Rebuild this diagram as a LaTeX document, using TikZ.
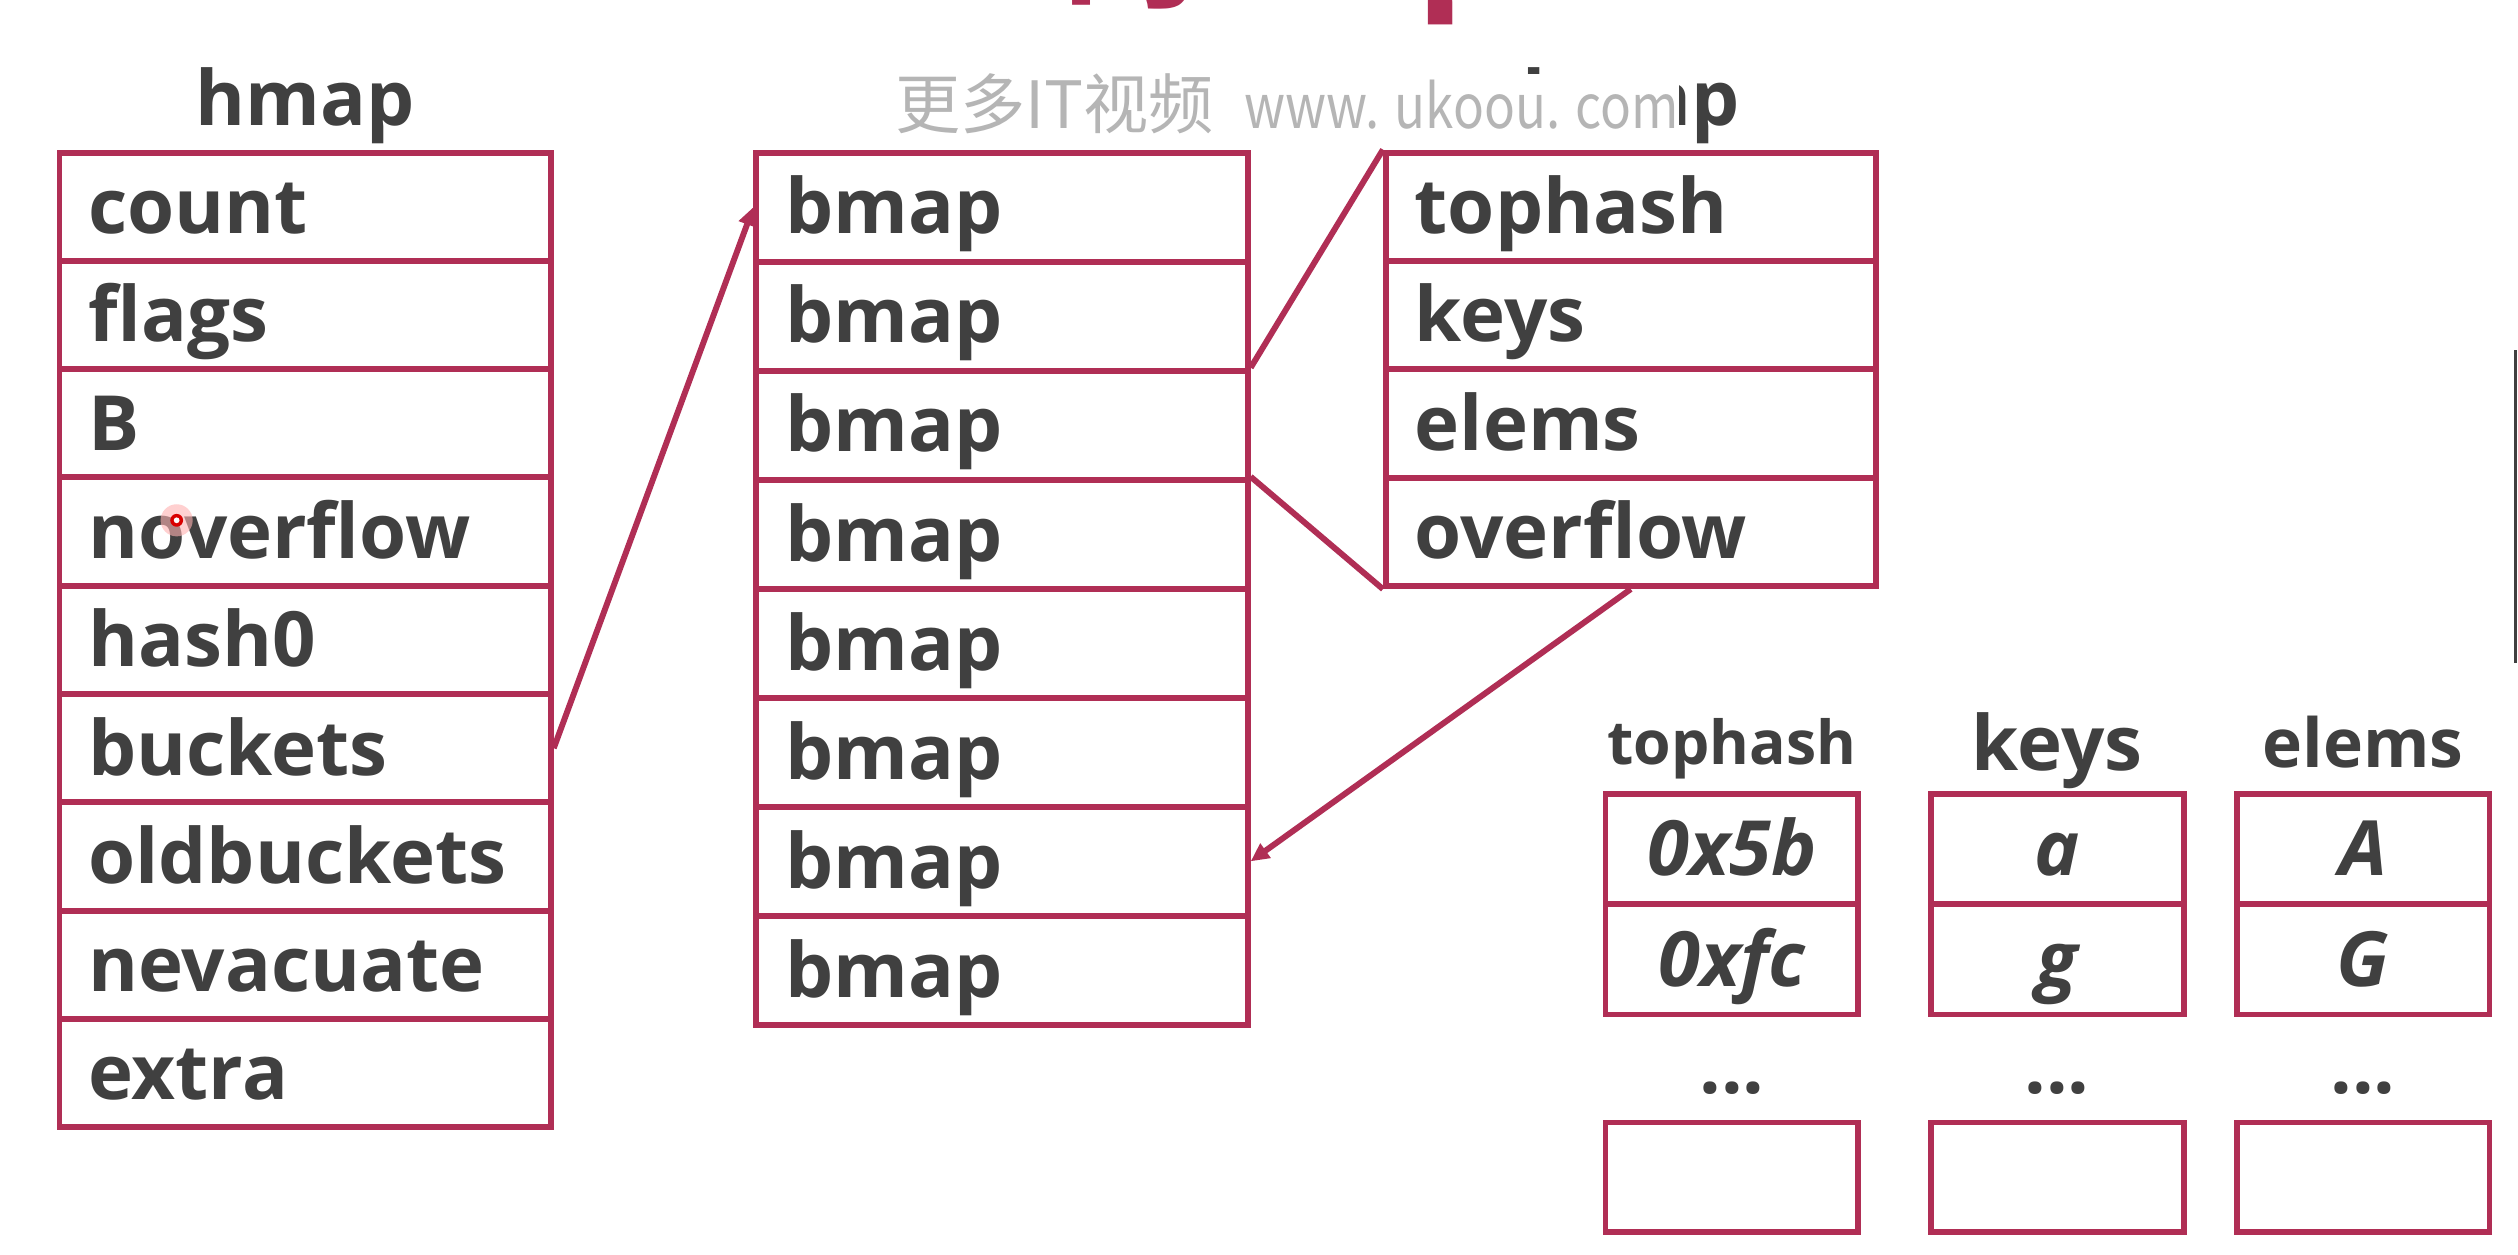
\documentclass[tikz,border=0pt]{standalone}
\usepackage{graphicx}
\usepackage{fontspec}
\setmainfont{Open Sans}
\newfontfamily\cjk{Noto Sans CJK SC}
\usetikzlibrary{arrows.meta}
\definecolor{crim}{HTML}{B02E55}
\definecolor{ink}{HTML}{404040}
\definecolor{wmgray}{HTML}{B5B5B5}
\begin{document}
\begin{tikzpicture}[x=0.02cm,y=-0.02cm,
  every node/.style={text=ink},
  lbl/.style={font=\bfseries\fontsize{27}{27}\selectfont},
  cellbase/.style={draw=crim, line width=2.1pt, rectangle, inner ysep=0pt,
    text height=0.668cm, text depth=0pt},
  hcell/.style={cellbase, lbl, minimum width=6.12cm, minimum height=1.349cm,
    text width=5.4cm, inner xsep=0.36cm, align=left},
  bcell/.style={cellbase, lbl, minimum width=6.12cm, minimum height=1.358cm,
    text width=5.4cm, inner xsep=0.36cm, align=left},
  dcell/.style={cellbase, lbl, minimum width=6.1cm, minimum height=1.35cm,
    text width=5.38cm, inner xsep=0.36cm, align=left},
  vcell/.style={cellbase, font=\bfseries\itshape\fontsize{27}{27}\selectfont,
    minimum width=3.15cm, minimum height=1.37cm, text width=2.9cm,
    inner xsep=0.125cm, align=center},
  ecell/.style={draw=crim, line width=2.1pt, rectangle, minimum width=3.15cm,
    minimum height=1.36cm, inner sep=0pt},
  ttl/.style={lbl, anchor=base, inner sep=0pt},
  conn/.style={draw=crim, line width=2.1pt},
  tip/.style={-{Triangle[length=6.5pt,width=6pt]}}
]
\useasboundingbox (0,0) rectangle (1568,781);
\fill[white] (0,0) rectangle (1568,781);

% cut-off red heading at the top edge
\node[anchor=base west, inner sep=0pt, text=crim,
  font=\cjk\bfseries\fontsize{48.6}{48.6}\selectfont] (heading) at (545,-2) {Go的map};

% titles
\node[ttl] (thmap) at (190,78) {hmap};
\node[ttl] (tbmap) at (1015.5,78) {bmap};

% hmap
\foreach \i/\t in {1/count,2/flags,3/B,4/noverflow,5/hash0,6/buckets,7/oldbuckets,8/nevacuate,9/extra}
  \node[hcell] (h\i) at (190,{95+67.44*(\i-0.5)}) {\t};

% buckets array
\foreach \i in {1,...,8}
  \node[bcell] (b\i) at (624,{95+67.9*(\i-0.5)}) {bmap};

% bmap detail
\foreach \i/\t in {1/tophash,2/keys,3/elems,4/overflow}
  \node[dcell] (d\i) at (1015.5,{95+67.5*(\i-0.5)}) {\t};

% bottom right columns
\node[lbl, anchor=base, inner sep=0pt, font=\bfseries\fontsize{21.5}{21.5}\selectfont] (ttop) at (1078.5,476) {tophash};
\node[ttl] (tkeys) at (1281,480) {keys};
\node[lbl, anchor=base, inner sep=0pt, font=\bfseries\fontsize{24}{24}\selectfont] (telems) at (1471.5,478) {elems};

\node[vcell] (v11) at (1078.5,528.5) {0x5b};
\node[vcell] (v12) at (1078.5,597.5) {0xfc};
\node[vcell] (v21) at (1281,528.5) {a};
\node[vcell] (v22) at (1281,597.5) {g};
\node[vcell] (v31) at (1471.5,528.5) {A};
\node[vcell] (v32) at (1471.5,597.5) {G};

\node[ttl] (dots1) at (1078.5,681) {...};
\node[ttl] (dots2) at (1281,681) {...};
\node[ttl] (dots3) at (1471.5,681) {...};

\node[ecell] (e1) at (1078.5,733) {};
\node[ecell] (e2) at (1281,733) {};
\node[ecell] (e3) at (1471.5,733) {};

% connectors
\draw[conn, tip] (h6.east) -- (b1.west);
\draw[conn] (b3.north east) -- (d1.north west);
\draw[conn] (b4.north east) -- (d4.south west);
\draw[conn, tip] (d4.south) -- (b7.east);

% watermark
\node[anchor=base west, inner sep=0pt, fill=white, text=wmgray,
  font=\cjk\fontsize{21.6}{21.6}\selectfont] (wmark) at (557,80)
  {{\fontsize{23.1}{23.1}\selectfont 更多IT视频}\hspace{0.38cm}\scalebox{0.84}[1]{www. ukoou. com}};

% pointer dot
\fill[red!30, opacity=0.6] (110,324) circle (10);
\fill[red!85!black] (110,324) circle (4);
\fill[white] (110,324) circle (1.8);

% screen edge line
\draw[ink, line width=1.2pt] (1566.5,218) -- (1566.5,413);
\end{tikzpicture}
\end{document}
